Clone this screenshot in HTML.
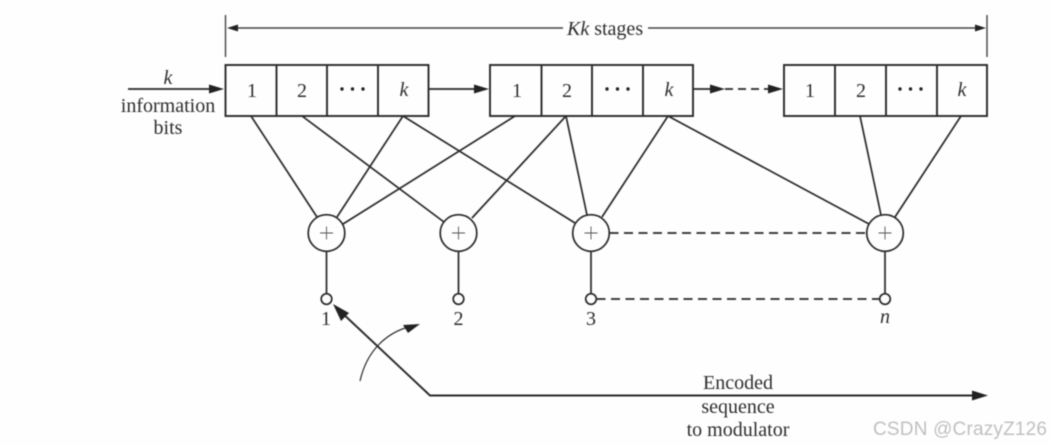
<!DOCTYPE html>
<html>
<head>
<meta charset="utf-8">
<style>
html,body{margin:0;padding:0;background:#fff;width:1051px;height:445px;overflow:hidden}
svg{display:block}
text{font-family:"Liberation Serif",serif;fill:#2e2e2e}
.i{font-style:italic}
</style>
</head>
<body>
<svg width="1051" height="445" viewBox="0 0 1051 445" xmlns="http://www.w3.org/2000/svg">
<defs><filter id="b" x="-2%" y="-2%" width="104%" height="104%"><feGaussianBlur stdDeviation="0.4"/></filter></defs>
<rect width="1051" height="445" fill="#fefefe"/>
<g filter="url(#b)">
<g fill="none" stroke="#2a2a2a" stroke-width="1.7">
<path d="M225.5 15V57M987 15V57" stroke="#444" stroke-width="1.4"/>
<path d="M233 28H563M648 28H980" stroke="#444" stroke-width="1.5"/>
<g stroke-width="1.9">
<rect x="225.5" y="65" width="203" height="51"/>
<path d="M276.5 65V116M327 65V116M378 65V116"/>
<rect x="490" y="65" width="203" height="51"/>
<path d="M541.5 65V116M592 65V116M643 65V116"/>
<rect x="784" y="65" width="203" height="51"/>
<path d="M835 65V116M886 65V116M937 65V116"/>
</g>
<path d="M128 89H216M429 89H480M693 89H715"/>
<path d="M725 89H775" stroke-dasharray="8 5"/>
<path d="M251 116L317 217M302 116L444 222M403 116L337 217M403 116L575 223M515 116L343 224M566 116L472 218M566 116L587 215M668 116L602 217M668 116L869 224M860 116L881 215M961 116L895 217"/>
<circle cx="326.5" cy="233" r="18.3"/>
<circle cx="458.5" cy="233" r="18.3"/>
<circle cx="591" cy="233" r="18.3"/>
<circle cx="885" cy="233" r="18.3"/>
<path d="M326.5 251V293.5M458.5 251V293.5M591 251V293.5M885 251V293.5"/>
<circle cx="326.5" cy="299" r="5.3"/>
<circle cx="458.5" cy="299" r="5.3"/>
<circle cx="591" cy="299" r="5.3"/>
<circle cx="885" cy="299" r="5.3"/>
<path d="M609.5 233H867" stroke-dasharray="9 5.5"/>
<path d="M596.5 299H880" stroke-dasharray="9 5.5"/>
<path d="M340 311L430 395.5H975" stroke-width="1.9"/>
<path d="M360 381C367 350 387 332 412 326" stroke-width="1.2"/>
<g stroke-width="0.9" stroke="#555">
<path d="M320 233H333M326.5 226.5V239.5M452 233H465M458.5 226.5V239.5M584.5 233H597.5M591 226.5V239.5M878.5 233H891.5M885 226.5V239.5"/>
</g>
</g>
<g fill="#222">
<path d="M227 28L238 24.5V31.5Z"/>
<path d="M986 28L975 24.5V31.5Z"/>
<path d="M224 89L209 84.5V93.5Z"/>
<path d="M489 89L474 84.5V93.5Z"/>
<path d="M725 89L710 84.5V93.5Z"/>
<path d="M783 89L768 84.5V93.5Z"/>
<path d="M333 304L349 313L341 321Z"/>
<path d="M420 324L403 325L408 333Z"/>
<path d="M988 395.5L972 390.5V400.5Z"/>
<circle cx="342" cy="89" r="1.7"/><circle cx="352.5" cy="89" r="1.7"/><circle cx="363" cy="89" r="1.7"/>
<circle cx="607" cy="89" r="1.7"/><circle cx="617.5" cy="89" r="1.7"/><circle cx="628" cy="89" r="1.7"/>
<circle cx="900" cy="89" r="1.7"/><circle cx="910.5" cy="89" r="1.7"/><circle cx="921" cy="89" r="1.7"/>
</g>
<g font-size="20" text-anchor="middle">
<text x="567" y="35" text-anchor="start"><tspan class="i">Kk</tspan> stages</text>
<text x="168" y="84" class="i">k</text>
<text x="168" y="112">information</text>
<text x="168" y="134">bits</text>
<text x="252" y="97">1</text><text x="302" y="97">2</text><text x="404" y="96" class="i">k</text>
<text x="517" y="97">1</text><text x="567" y="97">2</text><text x="669" y="96" class="i">k</text>
<text x="810" y="97">1</text><text x="861" y="97">2</text><text x="962" y="96" class="i">k</text>
<text x="326" y="325">1</text><text x="458.5" y="325">2</text><text x="591" y="325">3</text><text x="885" y="323" class="i">n</text>
<text x="738" y="389">Encoded</text>
<text x="738" y="413">sequence</text>
<text x="738" y="436">to modulator</text>
</g>
<text x="873" y="435" font-size="19" style="font-family:'Liberation Sans',sans-serif;fill:#c0c0c0" textLength="174" lengthAdjust="spacing">CSDN @CrazyZ126</text>
</g>
</svg>
</body>
</html>
